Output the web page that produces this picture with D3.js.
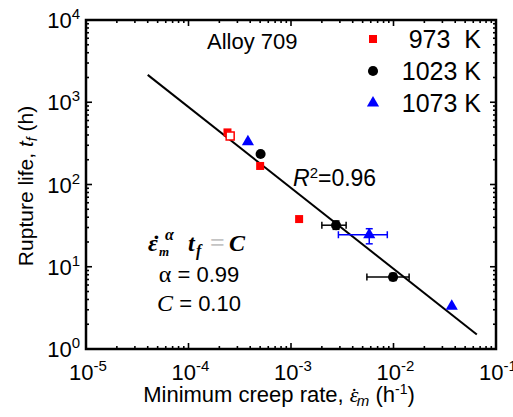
<!DOCTYPE html>
<html>
<head>
<meta charset="utf-8">
<script src="https://cdn.jsdelivr.net/npm/d3@7"></script>
<style>
  body { margin: 0; background: #fff; }
  text { font-family: Arial, "Liberation Sans", sans-serif; fill: #000; }
</style>
</head>
<body>
<svg width="513" height="417"></svg>
<script>
"use strict";

// data (x = min creep rate 1/h, y = rupture life h)
const red973 = [
  { x: 2.4e-4, y: 430, open: false },
  { x: 2.55e-4, y: 390, open: true },
  { x: 5.0e-4, y: 168, open: false },
  { x: 1.2e-3, y: 38, open: false }
];
const black1023 = [
  { x: 5.05e-4, y: 235 },
  { x: 2.75e-3, y: 32, xlo: 2.0e-3, xhi: 3.45e-3, ylo: 28.5, yhi: 36 },
  { x: 9.9e-3, y: 7.5, xlo: 5.5e-3, xhi: 1.42e-2, ylo: 6.8, yhi: 8.3 }
];
const blue1073 = [
  { x: 3.8e-4, y: 330 },
  { x: 5.8e-3, y: 24.5, xlo: 2.9e-3, xhi: 8.7e-3, ylo: 19, yhi: 29 },
  { x: 3.7e-2, y: 3.3 }
];
const fitX = [4.0e-5, 6.5e-2];
const fitY = [2150, 1.5];
const xTicks = [1e-5, 1e-4, 1e-3, 1e-2, 1e-1];
const yTicks = [1, 10, 100, 1000, 10000];
const legendLabels = ["973  K", "1023 K", "1073 K"];

const svg = d3.select("svg");
const L = 86, R = 496, T = 20, B = 349;

const x = d3.scaleLog().domain([1e-5, 1e-1]).range([L, R]);
const y = d3.scaleLog().domain([1, 1e4]).range([B, T]);

// minor ticks 2..9 per decade
function minors(lo, hi) {
  const out = [];
  for (let e = lo; e < hi; e++) for (let m = 2; m <= 9; m++) out.push(m * Math.pow(10, e));
  return out;
}
const xMinor = minors(-5, -1);
const yMinor = minors(0, 4);

const ax = svg.append("g").attr("stroke", "#000").attr("stroke-width", 1.6);
// bottom + top
[[B, -1], [T, 1]].forEach(([yy, dir]) => {
  ax.selectAll(null).data(xTicks).enter().append("line")
    .attr("x1", d => x(d)).attr("x2", d => x(d))
    .attr("y1", yy).attr("y2", yy + dir * 6);
  ax.selectAll(null).data(xMinor).enter().append("line")
    .attr("x1", d => x(d)).attr("x2", d => x(d))
    .attr("y1", yy).attr("y2", yy + dir * 3);
});
// left + right
[[L, 1], [R, -1]].forEach(([xx, dir]) => {
  ax.selectAll(null).data(yTicks).enter().append("line")
    .attr("y1", d => y(d)).attr("y2", d => y(d))
    .attr("x1", xx).attr("x2", xx + dir * 6);
  ax.selectAll(null).data(yMinor).enter().append("line")
    .attr("y1", d => y(d)).attr("y2", d => y(d))
    .attr("x1", xx).attr("x2", xx + dir * 3);
});

svg.append("rect")
  .attr("x", L).attr("y", T).attr("width", R - L).attr("height", B - T)
  .attr("fill", "none").attr("stroke", "#000").attr("stroke-width", 2.5);

// tick labels
const xl = svg.append("g").selectAll("text").data(xTicks).enter().append("text")
  .attr("x", d => x(d) + 2).attr("y", B + 31)
  .attr("text-anchor", "middle").style("font-size", "22px");
xl.append("tspan").text("10");
xl.append("tspan").attr("dy", -9).style("font-size", "15px").text(d => Math.round(Math.log10(d)));

const yl = svg.append("g").selectAll("text").data(yTicks).enter().append("text")
  .attr("x", L - 6).attr("y", d => y(d) + 8)
  .attr("text-anchor", "end").style("font-size", "22px");
yl.append("tspan").text("10");
yl.append("tspan").attr("dy", -9).style("font-size", "15px").text(d => Math.round(Math.log10(d)));

// axis titles
const serif = "'Liberation Serif', 'Times New Roman', serif";
const xt = svg.append("text").attr("x", 279).attr("y", 402)
  .attr("text-anchor", "middle").style("font-size", "22px");
xt.append("tspan").text("Minimum creep rate, ");
xt.append("tspan").style("font-family", serif).style("font-style", "italic").text("\u03B5");
xt.append("tspan").attr("dx", -8).attr("dy", 1).style("font-family", serif).text("\u02D9");
xt.append("tspan").attr("dx", -1).attr("dy", 3).style("font-size", "15px").style("font-style", "italic").text("m");
xt.append("tspan").attr("dy", -4).text(" (h");
xt.append("tspan").attr("dy", -8).style("font-size", "14px").text("-1");
xt.append("tspan").attr("dy", 8).text(")");

const yt = svg.append("text").attr("transform", "translate(33,186) rotate(-90)")
  .attr("text-anchor", "middle").style("font-size", "21px");
yt.append("tspan").text("Rupture life, ");
yt.append("tspan").style("font-style", "italic").text("t");
yt.append("tspan").attr("dy", 4).style("font-size", "14px").style("font-style", "italic").text("f");
yt.append("tspan").attr("dy", -4).text(" (h)");

// fit line
svg.append("line")
  .attr("x1", x(fitX[0])).attr("y1", y(fitY[0]))
  .attr("x2", x(fitX[1])).attr("y2", y(fitY[1]))
  .attr("stroke", "#000").attr("stroke-width", 2);

// error bars
function errBars(data, color) {
  const g = svg.append("g").attr("stroke", color).attr("stroke-width", 1.5);
  data.filter(d => d.xlo).forEach(d => {
    g.append("line").attr("x1", x(d.xlo)).attr("x2", x(d.xhi)).attr("y1", y(d.y)).attr("y2", y(d.y));
    [d.xlo, d.xhi].forEach(v => g.append("line").attr("x1", x(v)).attr("x2", x(v)).attr("y1", y(d.y) - 3.5).attr("y2", y(d.y) + 3.5));
    g.append("line").attr("x1", x(d.x)).attr("x2", x(d.x)).attr("y1", y(d.ylo)).attr("y2", y(d.yhi));
    [d.ylo, d.yhi].forEach(v => g.append("line").attr("x1", x(d.x) - 3.5).attr("x2", x(d.x) + 3.5).attr("y1", y(v)).attr("y2", y(v)));
  });
}
errBars(black1023, "#000");
errBars(blue1073, "#0000ff");

// markers
const sq = d3.symbol().type(d3.symbolSquare).size(64);
const ci = d3.symbol().type(d3.symbolCircle).size(80);
const tr = d3.symbol().type(d3.symbolTriangle).size(64);

svg.append("g").selectAll("path").data(red973).enter().append("path")
  .attr("d", sq).attr("transform", d => `translate(${x(d.x)},${y(d.y)})`)
  .attr("fill", d => d.open ? "#fff" : "#ff0000")
  .attr("stroke", d => d.open ? "#ff0000" : "none").attr("stroke-width", 1.5);
svg.append("g").selectAll("path").data(black1023).enter().append("path")
  .attr("d", ci).attr("transform", d => `translate(${x(d.x)},${y(d.y)})`)
  .attr("fill", "#000");
svg.append("g").selectAll("path").data(blue1073).enter().append("path")
  .attr("d", tr).attr("transform", d => `translate(${x(d.x)},${y(d.y)})`)
  .attr("fill", "#0000ff");

// legend
const legSyms = [[sq, "#ff0000"], [ci, "#000"], [tr, "#0000ff"]];
legendLabels.forEach((lab, i) => {
  const yy = 39 + i * 32;
  svg.append("path").attr("d", legSyms[i][0]).attr("transform", `translate(373,${yy})`)
    .attr("fill", legSyms[i][1]);
  svg.append("text").attr("x", 481).attr("y", yy + 9).attr("text-anchor", "end")
    .style("font-size", "25px").attr("xml:space", "preserve").text(lab);
});

svg.append("text").attr("x", 207).attr("y", 49).style("font-size", "22px").text("Alloy 709");

const r2 = svg.append("text").attr("x", 293).attr("y", 186).style("font-size", "23px");
r2.append("tspan").style("font-style", "italic").text("R");
r2.append("tspan").attr("dy", -8).style("font-size", "15px").text("2");
r2.append("tspan").attr("dy", 8).text("=0.96");

// formula  (eps-dot_m^alpha t_f = C)
const f = svg.append("text")
  .style("font-family", serif).style("font-size", "24px").style("font-weight", "bold").style("font-style", "italic");
f.append("tspan").attr("x", 148).attr("y", 251).text("\u03B5");
f.append("tspan").attr("x", 151).attr("y", 252).text("\u02D9");
f.append("tspan").attr("x", 159).attr("y", 256).style("font-size", "13px").text("m");
f.append("tspan").attr("x", 165).attr("y", 240).style("font-size", "16px").text("\u03B1");
f.append("tspan").attr("x", 188).attr("y", 251).text("t");
f.append("tspan").attr("x", 196).attr("y", 256).style("font-size", "16px").text("f");
f.append("tspan").attr("x", 210).attr("y", 251).style("fill", "#c4c4c4").style("font-style", "normal")
  .style("font-size", "26px").text("=");
f.append("tspan").attr("x", 229).attr("y", 251).text("C");

const a = svg.append("text").attr("x", 199).attr("y", 282).attr("text-anchor", "middle").style("font-size", "22px");
a.append("tspan").style("font-family", serif).style("font-size", "24px").text("\u03B1");
a.append("tspan").text(" = 0.99");

const c = svg.append("text").attr("x", 199).attr("y", 311).attr("text-anchor", "middle").style("font-size", "22px");
c.append("tspan").style("font-family", serif).style("font-style", "italic").style("font-size", "24px").text("C");
c.append("tspan").text(" = 0.10");
</script>
</body>
</html>
